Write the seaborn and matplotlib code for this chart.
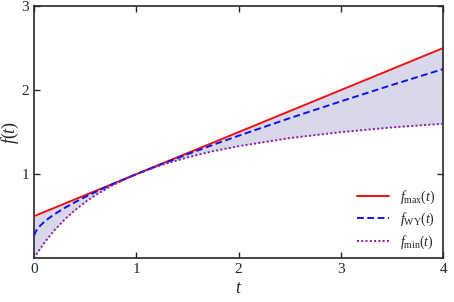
import numpy as np
import pandas as pd
import matplotlib.pyplot as plt
import seaborn as sns

# values
t_vals = [0, 0.02, 0.05, 0.1, 0.15, 0.2, 0.3, 0.4, 0.5, 0.6, 0.75, 0.9, 1.0, 1.25, 1.5,
          1.75, 2.0, 2.5, 3.0, 3.5, 4.0]
f_max = [0.5, 0.51, 0.525, 0.55, 0.575, 0.6, 0.65, 0.7, 0.75, 0.8, 0.875, 0.95, 1.0,
         1.125, 1.25, 1.375, 1.5, 1.75, 2.0, 2.25, 2.5]
f_wy = [0.27, 0.326, 0.374, 0.433, 0.481, 0.524, 0.599, 0.666, 0.729, 0.787, 0.871,
        0.949, 1.0, 1.121, 1.237, 1.349, 1.457, 1.666, 1.866, 2.061, 2.25]
f_min = [0.0, 0.039, 0.095, 0.182, 0.261, 0.333, 0.462, 0.571, 0.667, 0.75, 0.857,
         0.947, 1.0, 1.111, 1.2, 1.273, 1.333, 1.429, 1.5, 1.556, 1.6]

series_names = ['$f_{\\mathrm{max}}(t)$', '$f_{\\mathrm{WY}}(t)$', '$f_{\\mathrm{min}}(t)$']
x_ticks = [0, 1, 2, 3, 4]
y_ticks = [1, 2, 3]

sns.set_style('ticks')
plt.rcParams['font.family'] = ['Liberation Serif', 'DejaVu Serif']
plt.rcParams['mathtext.fontset'] = 'custom'
plt.rcParams['mathtext.rm'] = 'Liberation Serif'
plt.rcParams['mathtext.it'] = 'Liberation Serif:italic'

df = pd.DataFrame({'t': t_vals * 3,
                   'f': f_max + f_wy + f_min,
                   'curve': [series_names[0]] * len(t_vals) + [series_names[1]] * len(t_vals)
                   + [series_names[2]] * len(t_vals)})

fig, ax = plt.subplots(figsize=(4.54, 3.02), dpi=100)
fig.subplots_adjust(left=0.075, right=0.976, top=0.98, bottom=0.145)

ax.fill_between(t_vals, f_min, f_max, color='#d8d8ea', lw=0, zorder=1)

sns.lineplot(data=df, x='t', y='f', hue='curve', style='curve',
             palette=['#ee1111', '#1111ee', '#8b1a9e'],
             dashes=[(None, None), (3.5, 1.8), (1, 1.2)], linewidth=1.4, ax=ax, zorder=3)

ax.set_xlim(0, 4)
ax.set_ylim(0, 3)
ax.set_xticks(x_ticks)
ax.set_yticks(y_ticks)
ax.tick_params(direction='in', top=True, right=True, labelsize=11, length=4, width=1)
for sp in ax.spines.values():
    sp.set_linewidth(1.2)
ax.set_xlabel('$t$', fontsize=13, labelpad=3)
ax.set_ylabel('$f(t)$', fontsize=13)
ax.yaxis.set_label_coords(-0.032, 0.5)

handles, labels = ax.get_legend_handles_labels()
leg = ax.legend(handles, labels, loc='lower right', frameon=False, fontsize=10,
                handlelength=2.3, borderaxespad=0.15, labelspacing=0.35)

plt.savefig('out.png', dpi=100)
plt.close()
